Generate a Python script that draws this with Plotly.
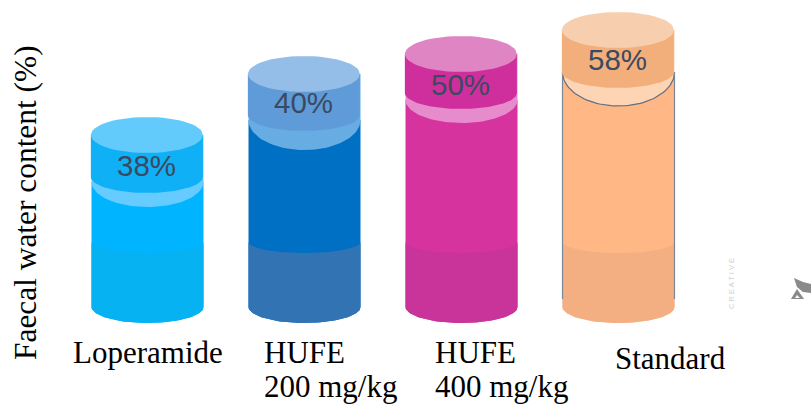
import numpy as np
import plotly.graph_objects as go

# Chart content
categories = ["Loperamide", "HUFE\n200 mg/kg", "HUFE\n400 mg/kg", "Standard"]
water_content = [38, 40, 50, 58]
value_labels = ["38%", "40%", "50%", "58%"]
axis_title = "Faecal water content (%)"

# The columns are an infographic and not drawn to one common scale:
# every column gets its own hidden y axis, with this many pixels from 0 to its value.
column_height_px = [206, 267, 287, 311]

# Column shape, in pixels measured down from the top of each column
lid_ry = 18
cap_side = [60, 59, 57, 60]
cap_ry = 16
band_side = [65, 64, 64, 60]
band_bottom = [90, 94, 87, 94]
label_drop = [48, 46, 48, 47]
shade_side_from_base = 81
shade_ry = 11
base_ry = 16
half_width_px = 56

# Colours per column: lid, cap, band, body, shaded lower part
lids = ["#63CBFB", "#94BDE8", "#E085C4", "#F7CFAF"]
caps = ["#0FB0F5", "#5F9BD8", "#CF2F9D", "#F3AF7B"]
bands = ["#66CCFF", "#67ACE2", "#E68BCB", "#FDD5B5"]
bodies = ["#00B4FF", "#0070C4", "#D6339F", "#FFB885"]
shades = ["#07B2F3", "#3273B4", "#C8349A", "#F3AE82"]
outline = "#5F6F85"

W, H = 811, 405
base_px = 323
first_centre_px, step_px = 147.5, 157.0
half_width = half_width_px / step_px


def arc(cx, cy, rx, ry, start, stop, n=60):
    """Points of an elliptical arc; angles in degrees, counter-clockwise in data space."""
    t = np.radians(np.linspace(start, stop, n))
    return cx + rx * np.cos(t), cy + ry * np.sin(t)


fig = go.Figure()
annotations = []

for i, value in enumerate(water_content):
    height = column_height_px[i]
    axis = "y" if i == 0 else f"y{i + 1}"

    def level(drop_px):
        # Drop below the column top, expressed in this column's axis units
        return value * (height - drop_px) / height

    def add(xs, ys, colour):
        fig.add_trace(go.Scatter(
            x=xs, y=ys, yaxis=axis, mode="lines", fill="toself", fillcolor=colour,
            line=dict(width=0, color=colour), hoverinfo="skip", showlegend=False,
        ))

    rx = half_width
    ry_lid = lid_ry * value / height
    ry_cap = cap_ry * value / height
    ry_base = base_ry * value / height
    ry_shade = shade_ry * value / height

    lid_y = level(lid_ry)
    cap_y = level(cap_side[i])
    band_y = level(band_side[i])
    band_ry = (band_bottom[i] - band_side[i]) * value / height
    base_y = level(height - base_ry)
    shade_y = level(height - shade_side_from_base)

    # Body from the band down to the rounded foot
    fx, fy = arc(i, base_y, rx, ry_base, 360, 180)
    add(np.r_[i - rx, i + rx, fx], np.r_[band_y, band_y, fy], bodies[i])

    # Shaded lower part whose upper edge dips in the middle
    sx, sy = arc(i, shade_y, rx, ry_shade, 180, 360)
    add(np.r_[sx, fx], np.r_[sy, fy], shades[i])

    # Pale band under the cap
    bx, by = arc(i, band_y, rx, band_ry, 360, 180)
    add(np.r_[i - rx, i + rx, bx], np.r_[lid_y, lid_y, by], bands[i])

    # Only the fourth column carries a thin outline on its band and sides
    if i == 3:
        fig.add_trace(go.Scatter(x=bx, y=by, yaxis=axis, mode="lines",
                                 line=dict(width=1.2, color=outline),
                                 hoverinfo="skip", showlegend=False))
        low = level(height - 24)
        for edge in (i - rx, i + rx):
            fig.add_trace(go.Scatter(x=[edge, edge], y=[band_y, low], yaxis=axis, mode="lines",
                                     line=dict(width=1.2, color="#7C8794"),
                                     hoverinfo="skip", showlegend=False))

    # Darker cap, set a hair to the left of the body
    cap_x = i - 0.004
    cx, cy = arc(cap_x, cap_y, rx, ry_cap, 360, 180)
    add(np.r_[cap_x - rx, cap_x + rx, cx], np.r_[lid_y, lid_y, cy], caps[i])

    # Lid ellipse
    lx, ly = arc(cap_x, lid_y, rx, ry_lid, 0, 360)
    add(lx, ly, lids[i])

    annotations.append(dict(
        x=i - 0.008, y=level(label_drop[i]), xref="x", yref=axis,
        text=value_labels[i], showarrow=False,
        font=dict(family="Liberation Sans", size=29.5, color="#3B4A60"),
    ))


def page_text(text, left_px, mid_px, size=31):
    return dict(
        x=left_px / W, y=1 - mid_px / H, xref="paper", yref="paper", text=text,
        showarrow=False, xanchor="left", yanchor="middle",
        font=dict(family="Liberation Serif", size=size, color="#000000"),
    )


# Category captions; the placement follows the staggered layout of the slide
caption_left = [71, 262, 433, 613]
caption_mid = [352, 352, 352, 358]
caption_line_px = 34
for name, left, mid in zip(categories, caption_left, caption_mid):
    for k, line_text in enumerate(name.split("\n")):
        annotations.append(page_text(line_text, left, mid + k * caption_line_px))

annotations.append(dict(
    x=25 / W, y=1 - 203 / H, xref="paper", yref="paper", text=axis_title, showarrow=False,
    textangle=-90, xanchor="center", yanchor="middle",
    font=dict(family="Liberation Serif", size=31.4, color="#000000"),
))

# Faint vertical credit beside the last column
annotations.append(dict(
    x=731 / W, y=1 - 284 / H, xref="paper", yref="paper", text="C R E A T I V E", showarrow=False,
    textangle=-90, xanchor="center", yanchor="middle",
    font=dict(family="Liberation Sans", size=7.5, color="#D0D0D0"),
))


def page_path(points):
    return "M " + " L ".join(f"{px / W:.4f},{1 - py / H:.4f}" for px, py in points) + " Z"


# Small satellite-dish pictogram cut off by the right edge
icon_parts = [
    ([(794, 278), (803, 282), (811, 284), (811, 293), (803, 292), (797, 287)], "#8A8A8A"),
    ([(791, 299), (797, 289), (804, 299)], "#8A8A8A"),
    ([(795, 298), (797, 295), (800, 298)], "#FFFFFF"),
]
shapes = [
    dict(type="path", xref="paper", yref="paper", path=page_path(points),
         fillcolor=colour, line=dict(width=0))
    for points, colour in icon_parts
]

layout_axes = {}
for i, value in enumerate(water_content):
    per_px = value / column_height_px[i]
    name = "yaxis" if i == 0 else f"yaxis{i + 1}"
    layout_axes[name] = dict(
        range=[-(H - base_px) * per_px, base_px * per_px],
        visible=False, fixedrange=True,
        **({} if i == 0 else {"overlaying": "y"}),
    )

fig.update_layout(
    width=W, height=H,
    margin=dict(l=0, r=0, t=0, b=0),
    paper_bgcolor="white", plot_bgcolor="white",
    xaxis=dict(range=[-first_centre_px / step_px, (W - first_centre_px) / step_px],
               visible=False, fixedrange=True),
    annotations=annotations, shapes=shapes, showlegend=False,
    **layout_axes,
)

fig.write_html("out.html", config={"displayModeBar": False})
